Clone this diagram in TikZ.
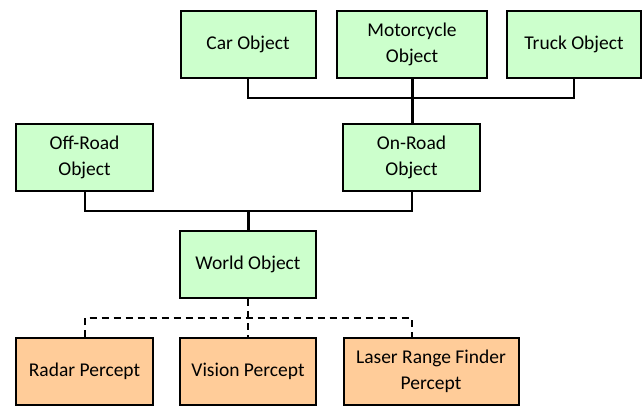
\documentclass[tikz,border=0pt]{standalone}
\usepackage{fontspec}
\setmainfont{Carlito}
\definecolor{objgreen}{HTML}{CCFFCC}
\definecolor{perceptorange}{HTML}{FFCC99}
\begin{document}
\begin{tikzpicture}[x=1pt,y=-1pt,
	objbox/.style={draw, line width=2pt, fill=objgreen, minimum height=67pt, align=center, font=\fontsize{19.5}{25.5}\selectfont},
	perceptbox/.style={objbox, fill=perceptorange},
	bus/.style={line width=2pt},
	trunk/.style={line width=3pt}]
	\useasboundingbox (0,0) rectangle (644,408);
	% derived objects
	\node [objbox, minimum width=135pt] (car) at (248,44.5) {Car Object};
	\node [objbox, minimum width=150pt] (moto) at (412,44.5) {Motorcycle\\Object};
	\node [objbox, minimum width=134pt] (truck) at (574,44.5) {Truck Object};
	\node [objbox, minimum width=137pt] (offroad) at (84.5,157.5) {Off-Road\\Object};
	\node [objbox, minimum width=137pt] (onroad) at (411.5,157.5) {On-Road\\Object};
	\node [objbox, minimum width=136pt] (world) at (248,264.5) {World Object};
	% percepts
	\node [perceptbox, minimum width=137pt] (radar) at (84.5,371.5) {Radar Percept};
	\node [perceptbox, minimum width=136pt] (vision) at (248,371.5) {Vision Percept};
	\node [perceptbox, minimum width=175pt] (laser) at (431,371.5) {Laser Range Finder\\Percept};
	\coordinate (roadbus) at (0,98);
	\coordinate (worldbus) at (0,211);
	\coordinate (perceptbus) at (0,318);
	\draw [bus] (car.south) |- (roadbus -| truck) -- (truck.south);
	\draw [trunk] (moto.south) -- (moto.south |- onroad.north);
	\draw [bus] (offroad.south) |- (worldbus -| onroad) -- (onroad.south);
	\draw [trunk] (world.north) -- (world.north |- worldbus);
	\draw [bus, dashed, dash pattern=on 7pt off 5pt] (radar.north) |- (perceptbus -| onroad) -- (onroad |- laser.north);
	\draw [bus, dashed, dash pattern=on 7pt off 5pt] (world.south) -- (vision.north);
\end{tikzpicture}
\end{document}
